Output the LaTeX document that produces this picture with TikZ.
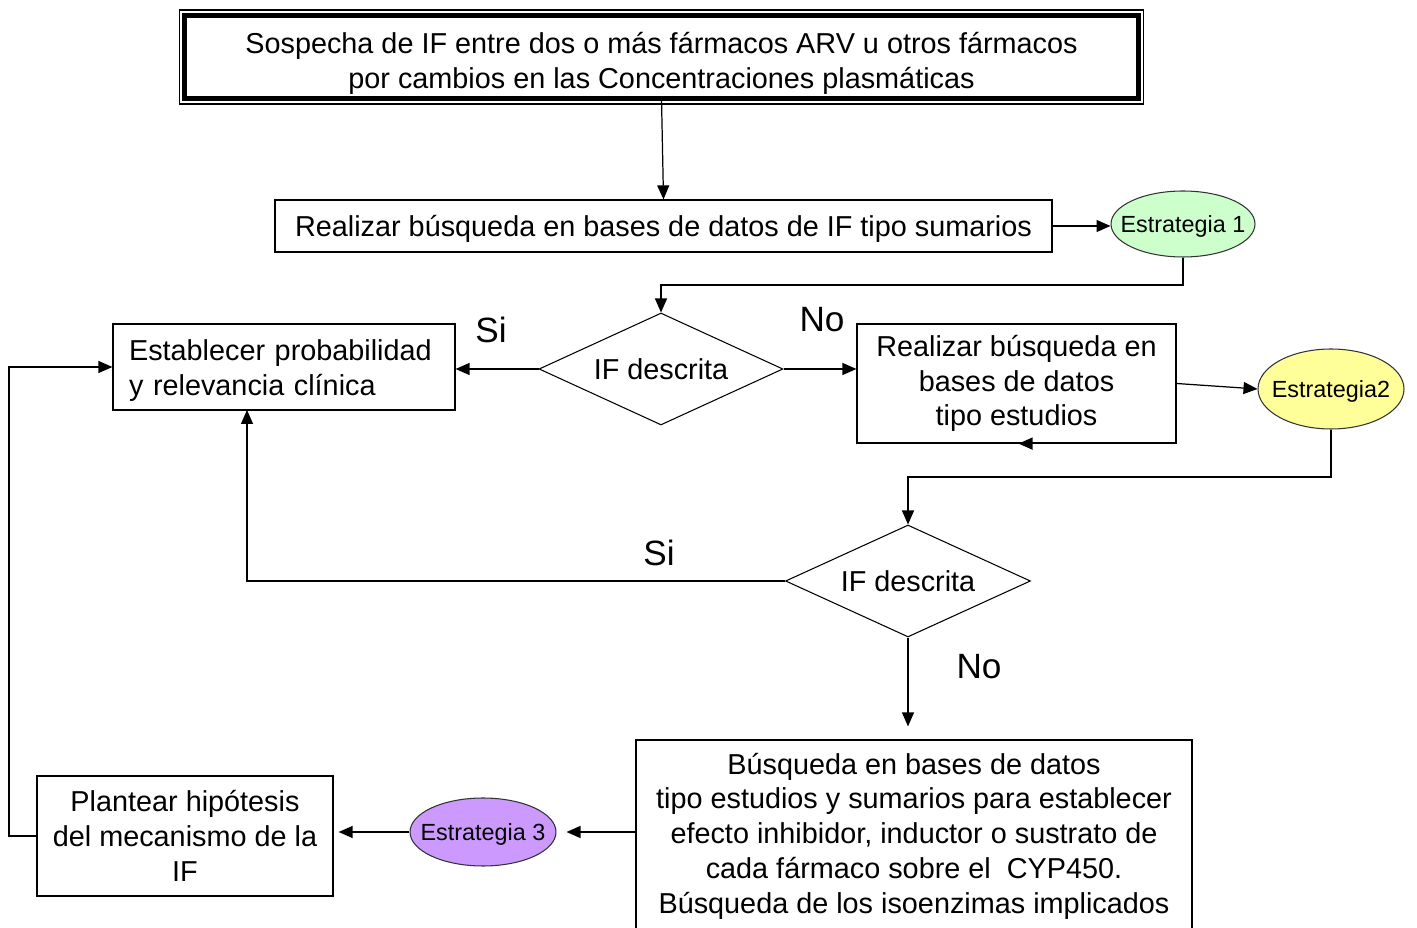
\documentclass[tikz,border=0pt]{standalone}
\usepackage{fontspec}
\setmainfont{Liberation Sans}
\usetikzlibrary{arrows.meta,shapes.geometric}
\definecolor{egreen}{RGB}{204,255,204}
\definecolor{eyellow}{RGB}{255,255,153}
\definecolor{epurple}{RGB}{204,153,255}
\newcommand{\zbox}[1]{\smash{\raisebox{-0.36em}{\makebox[0pt]{#1}}}}
\begin{document}
\begin{tikzpicture}[x=0.02cm,y=-0.02cm,
  txt/.style={font=\fontsize{16.4}{19.8}\selectfont},
  box/.style={draw, line width=0.7pt, inner sep=0pt, align=center, txt},
  ell/.style={ellipse, draw=black!80, line width=0.6pt, inner sep=0pt, font=\fontsize{13.3}{16}\selectfont},
  dia/.style={diamond, draw, line width=0.6pt, inner sep=0pt, txt},
  lbl/.style={font=\fontsize{20}{24}\selectfont},
  arr/.style={line width=0.7pt, -{Triangle[length=0.28cm,width=0.24cm]}},
  ln/.style={line width=0.7pt}
]
\useasboundingbox (0,0) rectangle (1417,928);
\clip (0,0) rectangle (1417,928);

% nodes
\node[box, line width=2.8pt, outer sep=0pt, minimum width=19.08cm, minimum height=1.66cm] (top) at (661.5,57)
  {\rule{0pt}{19pt}Sospecha de IF entre dos o más fármacos ARV u otros fármacos\\por cambios en las Concentraciones plasmáticas};
\draw[line width=0.6pt] ([shift={(-5.5,-5.5)}]top.north west) rectangle ([shift={(5.5,5.5)}]top.south east);

\node[box, minimum width=15.54cm, minimum height=1.04cm] (sum) at (663.5,226)
  {\rule{0pt}{15pt}Realizar búsqueda en bases de datos de IF tipo sumarios};

\node[ell, fill=egreen, minimum width=2.88cm, minimum height=1.32cm] (e1) at (1183,224) {\zbox{Estrategia 1}};

\node[dia, minimum width=4.88cm, minimum height=2.24cm] (d1) at (661,369) {\zbox{IF descrita}};

\node[box, align=left, inner xsep=0.32cm, text width=6.2cm, minimum height=1.72cm] (est) at (284,367)
  {\rule{0pt}{16pt}Establecer probabilidad\\y relevancia clínica};

\node[box, minimum width=6.38cm, minimum height=2.38cm] (r2) at (1016.5,383.5)
  {Realizar búsqueda en\\bases de datos\\tipo estudios};

\node[ell, fill=eyellow, minimum width=2.92cm, minimum height=1.6cm] (e2) at (1331,389) {\zbox{Estrategia2}};

\node[dia, minimum width=4.9cm, minimum height=2.24cm] (d2) at (908,581) {\zbox{IF descrita}};

\node[box, minimum width=11.12cm, minimum height=3.84cm] (bus) at (914,836)
  {Búsqueda en bases de datos\\tipo estudios y sumarios para establecer\\efecto inhibidor, inductor o sustrato de\\cada fármaco sobre el\ \ CYP450.\\Búsqueda de los isoenzimas implicados};

\node[ell, fill=epurple, minimum width=2.92cm, minimum height=1.36cm] (e3) at (483,832) {\zbox{Estrategia 3}};

\node[box, minimum width=5.92cm, minimum height=2.4cm] (pl) at (185,836)
  {Plantear hipótesis\\del mecanismo de la\\IF};

% labels
\node[lbl] (si1) at (491,330) {Si};
\node[lbl] (no1) at (822,320) {No};
\node[lbl] (si2) at (659,553) {Si};
\node[lbl] (no2) at (979,667) {No};

% helper coordinates
\coordinate (c1) at (661,285);
\coordinate (c2) at (908,477);
\coordinate (c3) at (247,410);
\coordinate (c4) at (9,836);

% connectors
\draw[arr] (top.south) -- (sum.north);
\draw[arr] (sum.east) -- (sum.east -| e1.west);
\draw[arr] (e1.south) |- (c1) -- (d1.north);
\draw[arr] (d1.west) -- (d1.west -| est.east);
\draw[arr] (d1.east) -- (d1.east -| r2.west);
\draw[arr] (r2.east) -- (e2.west);
\draw[arr] (e2.south) |- (c2) -- (d2.north);
\draw[arr] (d2.west) -| (c3);
\draw[arr, shorten >=0.26cm] (d2.south) -- (d2.south |- bus.north);
\draw[arr, shorten >=0.2cm] (e3.east -| bus.west) -- (e3.east);
\draw[arr, shorten >=0.1cm] (e3.west) -- (e3.west -| pl.east);
\draw[arr] (pl.west) -- (c4) |- (est.west);
\draw[arr] ([xshift=0.3cm]r2.south) -- ([xshift=0.04cm]r2.south);
\end{tikzpicture}
\end{document}
